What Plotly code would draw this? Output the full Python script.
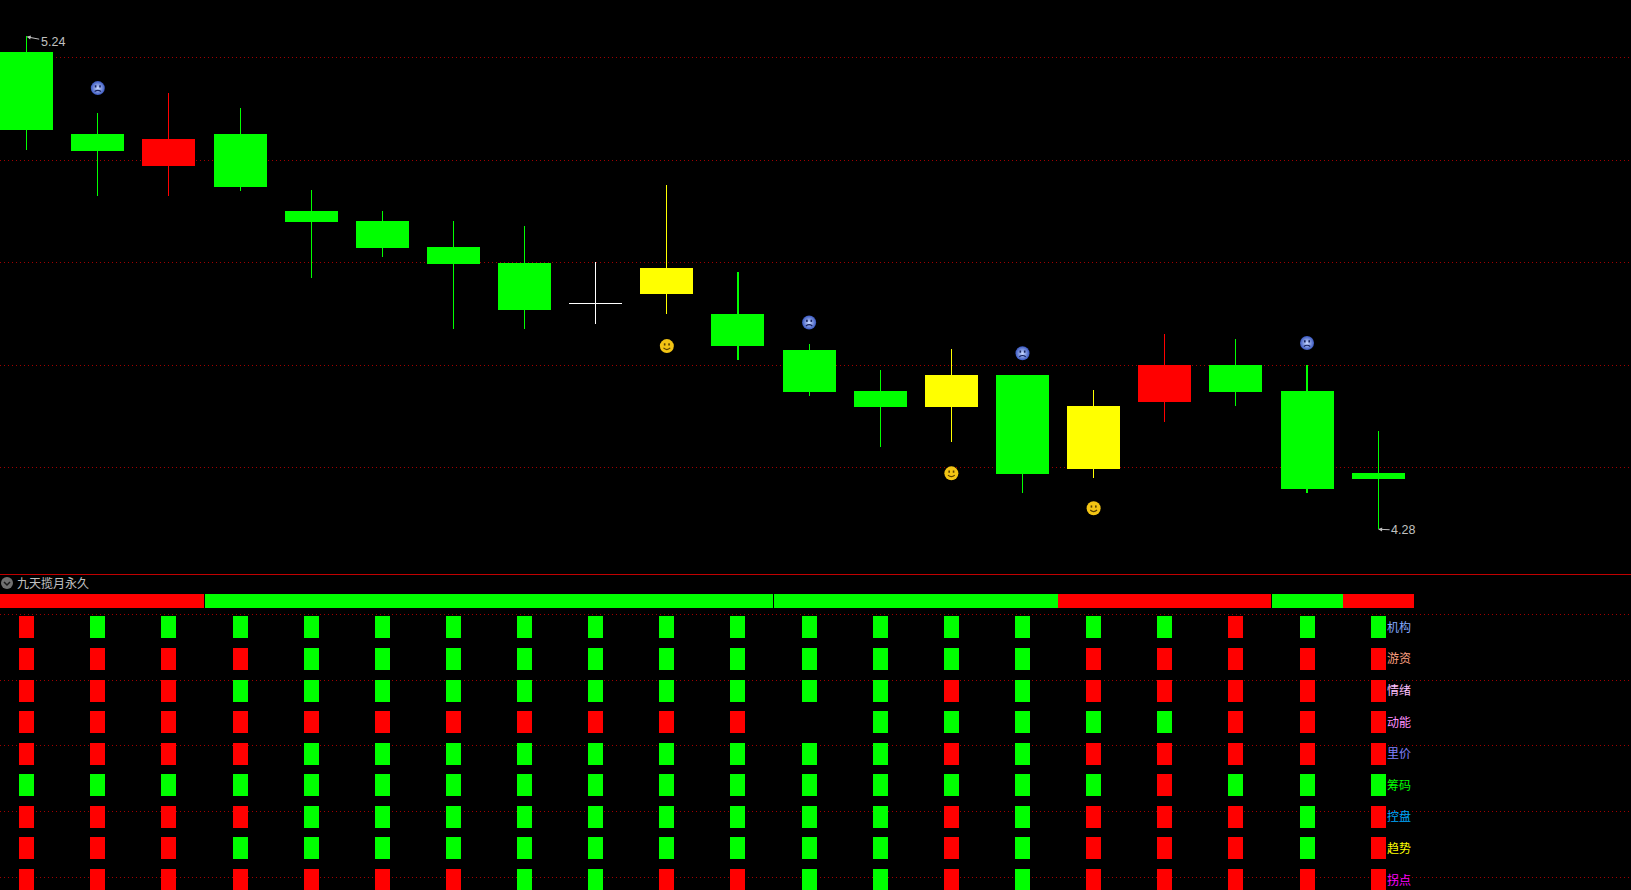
import base64
import plotly.graph_objects as go

# ---------- data ----------
idx = list(range(20))
opens  = [5.21,5.05,4.99,5.05,4.90,4.88,4.83,4.80,4.72,4.79,4.70,4.63,4.55,4.58,4.58,4.52,4.53,4.60,4.55,4.39]
closes = [5.06,5.02,5.04,4.95,4.88,4.83,4.80,4.71,4.72,4.74,4.64,4.55,4.52,4.52,4.39,4.40,4.60,4.55,4.36,4.38]
highs  = [5.24,5.09,5.13,5.10,4.94,4.90,4.88,4.87,4.80,4.95,4.78,4.64,4.59,4.63,4.58,4.55,4.66,4.65,4.60,4.47]
lows   = [5.02,4.93,4.93,4.94,4.77,4.81,4.67,4.67,4.68,4.70,4.61,4.54,4.44,4.45,4.35,4.38,4.49,4.52,4.35,4.28]
candle_colors = ["g","g","r","g","g","g","g","g","w","y","g","g","g","y","g","y","r","g","g","g"]
price_grid = [4.4,4.6,4.8,5.0,5.2]

sad_x = [1,11,14,18]
sad_y = [5.14,4.683,4.623,4.643]
happy_x = [9,13,15]
happy_y = [4.637,4.389,4.321]

strip = ["r"]*3 + ["g"]*12 + ["r"]*3 + ["g","r"]

row_names = ["机构","游资","情绪","动能","里价","筹码","控盘","趋势","拐点"]
row_label_colors = ["#80a8ff","#ffa080","#ffc0ff","#ff90ff","#8080ff","#00ff00","#00a8ff","#ffff00","#ff00ff"]
row_values = [
    "rggggggggggggggggrgg",
    "rrrrgggggggggggrrrrr",
    "rrrggggggggggrgrrrrr",
    "rrrrrrrrrrr-gggggrrr",
    "rrrrgggggggggrgrrrrr",
    "ggggggggggggggggrggg",
    "rrrrgggggggggrgrrrgr",
    "rrrggggggggggrgrrrgr",
    "rrrrrrrggrrggrgrrrrr",
]
row_levels = [9,8,7,6,5,4,3,2,1]
indicator_grid = [9.408,7.319,5.260,3.170,1.080]
panel_title = "九天揽月永久"

# ---------- style ----------
W, H = 1631, 890
SPLIT = 574
PALETTE = {"g":"#00ff00","r":"#ff0000","y":"#ffff00","w":"#ffffff"}
GRID = "#a00000"
SLOT = 71.13
FIRST = 26.68
X_RANGE = [-FIRST/SLOT, (W-FIRST)/SLOT]
PX = 513.0          # pixels per price unit
Y52 = 57.3          # pixel row of price 5.2
ROW = 31.58         # pixels per indicator level
Y_LEVEL1 = 880.04   # pixel row of level 1
BODY_PAD = 1/PX     # bodies reach one pixel below their lower price
WICK_PAD = 0.3/PX   # wick tops reach a fraction of a pixel above the high
DOJI = 0.1/PX       # a flat candle is drawn as a hairline

fig = go.Figure()

# candles
fig.add_trace(go.Bar(x=idx, y=[h-l+WICK_PAD for h,l in zip(highs,lows)], base=lows, width=0.001,
                     marker=dict(color=[PALETTE[c] for c in candle_colors], line_width=0)))
fig.add_trace(go.Bar(x=idx,
                     y=[abs(o-c)+BODY_PAD if o != c else DOJI for o,c in zip(opens,closes)],
                     base=[min(o,c)-BODY_PAD if o != c else o for o,c in zip(opens,closes)],
                     width=53/SLOT,
                     marker=dict(color=[PALETTE[c] for c in candle_colors], line_width=0)))

# emoticons: disc from a marker, face drawn over it
fig.add_trace(go.Scatter(x=sad_x, y=sad_y, mode="markers",
                         marker=dict(size=14, color="#3a58c0", line_width=0,
                                     gradient=dict(type="radial", color="#c8d8ff"))))
fig.add_trace(go.Scatter(x=happy_x, y=happy_y, mode="markers",
                         marker=dict(size=14, color="#f2c414", line_width=0)))

def face(mouth, col):
    svg = (f'<svg xmlns="http://www.w3.org/2000/svg" width="14" height="14" viewBox="0 0 14 14">'
           f'<rect x="4" y="4.2" width="1.6" height="2.2" fill="{col}"/>'
           f'<rect x="8.4" y="4.2" width="1.6" height="2.2" fill="{col}"/>'
           f'<path d="{mouth}" fill="none" stroke="{col}" stroke-width="1.2"/></svg>')
    return "data:image/svg+xml;base64," + base64.b64encode(svg.encode()).decode()

SAD_FACE = face("M3.8 10.4 Q7 8 10.2 10.4", "#16225c")
HAPPY_FACE = face("M3.6 8.8 Q7 12 10.4 8.8", "#5a4000")
images = []
for xs, ys, src in ((sad_x, sad_y, SAD_FACE), (happy_x, happy_y, HAPPY_FACE)):
    for x, y in zip(xs, ys):
        images.append(dict(source=src, xref="x", yref="y", x=x, y=y, sizex=14/SLOT, sizey=14/PX,
                           xanchor="center", yanchor="middle", sizing="stretch", layer="above"))

# indicator strip
strip_center = 1 + (Y_LEVEL1-601)/ROW
fig.add_trace(go.Bar(x=idx, y=[14/ROW]*20, base=[strip_center-7/ROW]*20, width=71/SLOT,
                     marker=dict(color=[PALETTE[c] for c in strip], line_width=0),
                     xaxis="x2", yaxis="y2"))

# indicator rows
for level, vals in zip(row_levels, row_values):
    xs = [i for i,v in zip(idx,vals) if v != "-"]
    cs = [PALETTE[v] for v in vals if v != "-"]
    fig.add_trace(go.Bar(x=xs, y=[22/ROW]*len(xs), base=[level-11/ROW]*len(xs), width=15/SLOT,
                         marker=dict(color=cs, line_width=0), xaxis="x2", yaxis="y2"))

annotations = []
for level, name, col in zip(row_levels, row_names, row_label_colors):
    annotations.append(dict(x=19, y=level, xref="x2", yref="y2", text=name, showarrow=False,
                            xanchor="left", yanchor="middle", xshift=6.5, yshift=1,
                            font=dict(family="Noto Sans CJK SC", size=12, color=col)))
annotations.append(dict(x=X_RANGE[0], y=1+(Y_LEVEL1-582)/ROW, xref="x2", yref="y2", text=panel_title,
                        showarrow=False, xanchor="left", yanchor="middle", xshift=15,
                        font=dict(family="Noto Sans CJK SC", size=12, color="#c0c0c0")))
annotations.append(dict(x=0, y=max(highs), xref="x", yref="y", text=f"{max(highs):.2f}", ax=26, ay=5,
                        showarrow=True, arrowhead=2, arrowsize=0.8, arrowwidth=1, arrowcolor="#c0c0c0",
                        font=dict(family="Liberation Sans", size=12.5, color="#c0c0c0")))
annotations.append(dict(x=19, y=min(lows), xref="x", yref="y", text=f"{min(lows):.2f}", ax=25, ay=1,
                        showarrow=True, arrowhead=2, arrowsize=0.8, arrowwidth=1, arrowcolor="#c0c0c0",
                        font=dict(family="Liberation Sans", size=12.5, color="#c0c0c0")))

shapes = [
    dict(type="line", xref="paper", yref="paper", x0=0, x1=1, y0=1-(SPLIT+.5)/H, y1=1-(SPLIT+.5)/H,
         line=dict(color="#c00000", width=1)),
    dict(type="circle", xref="paper", yref="paper", x0=1/W, x1=13/W, y0=1-589/H, y1=1-577/H,
         fillcolor="#707070", line_width=0),
    dict(type="path", xref="paper", yref="paper",
         path=f"M {4/W} {1-582/H} L {7/W} {1-585/H} L {10/W} {1-582/H}",
         line=dict(color="#1a1a1a", width=1.5)),
]

axis_common = dict(showticklabels=False, ticks="", zeroline=False, showline=False)
grid_common = dict(showgrid=True, gridcolor=GRID, gridwidth=1, griddash="1px,3px")
GRID_NUDGE = 0.2/PX
level_low = 1-(H-Y_LEVEL1)/ROW

fig.update_layout(
    width=W, height=H, margin=dict(l=0,r=0,t=0,b=0),
    paper_bgcolor="#000000", plot_bgcolor="#000000",
    showlegend=False, barmode="overlay", bargap=0, hovermode=False,
    annotations=annotations, shapes=shapes, images=images,
    xaxis=dict(range=X_RANGE, domain=[0,1], anchor="y", showgrid=False, **axis_common),
    yaxis=dict(range=[5.2-(SPLIT-Y52)/PX, 5.2+Y52/PX], domain=[1-SPLIT/H,1], anchor="x",
               tickvals=[p-GRID_NUDGE for p in price_grid], **axis_common, **grid_common),
    xaxis2=dict(range=X_RANGE, domain=[0,1], anchor="y2", showgrid=False, **axis_common),
    yaxis2=dict(range=[level_low, level_low+(H-SPLIT)/ROW], domain=[0,1-SPLIT/H], anchor="x2",
                tickvals=indicator_grid, **axis_common, **grid_common),
)

fig.write_html("out.html", config={"displayModeBar": False},
               post_script="document.body.style.margin='0';document.body.style.background='#000';document.documentElement.style.overflow='hidden';")
